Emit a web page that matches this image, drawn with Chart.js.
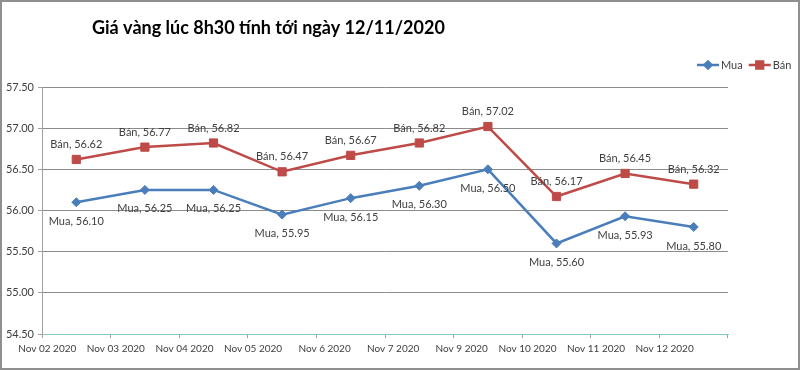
<!DOCTYPE html>
<html><head><meta charset="utf-8">
<script src="https://cdn.jsdelivr.net/npm/chart.js@4"></script>
<style>html,body{margin:0;padding:0;background:#fff}#wrap{width:800px;height:370px;position:relative}</style>
</head><body><div id="wrap"><canvas id="c" width="800" height="370"></canvas></div>
<script>
const titleText = 'Giá vàng lúc 8h30 tính tới ngày 12/11/2020';
const categories = ['Nov 02 2020','Nov 03 2020','Nov 04 2020','Nov 05 2020','Nov 6 2020','Nov 7 2020','Nov 9 2020','Nov 10 2020','Nov 11 2020','Nov 12 2020'];
const muaValues = [56.10,56.25,56.25,55.95,56.15,56.30,56.50,55.60,55.93,55.80];
const banValues = [56.62,56.77,56.82,56.47,56.67,56.82,57.02,56.17,56.45,56.32];
const seriesNames = ['Mua','Bán'];
const yMin = 54.5, yMax = 57.5, yStep = 0.5;

const FONT = 'Lato, "Liberation Sans", sans-serif';
const TEXT = '#404040';

const decor = {
  id: 'decor',
  beforeDraw(chart) {
    const ctx = chart.ctx; ctx.save();
    ctx.fillStyle = '#fff'; ctx.fillRect(0, 0, chart.width, chart.height);
    ctx.restore();
  },
  afterDatasetsDraw(chart) {
    const ctx = chart.ctx; ctx.save();
    ctx.font = '11px ' + FONT; ctx.fillStyle = TEXT;
    ctx.textAlign = 'center'; ctx.textBaseline = 'middle';
    chart.data.datasets.forEach((ds, i) => {
      const meta = chart.getDatasetMeta(i);
      meta.data.forEach((pt, j) => {
        const off = ds.labelOffset;
        ctx.fillText(ds.label + ', ' + ds.data[j].toFixed(2), pt.x, pt.y + off);
      });
    });
    ctx.restore();
  },
  afterDraw(chart) {
    const ctx = chart.ctx; ctx.save();
    ctx.strokeStyle = '#8f8f8f'; ctx.lineWidth = 2; ctx.strokeRect(1, 1, chart.width - 2, chart.height - 2);
    ctx.font = 'bold 18px ' + FONT; ctx.fillStyle = '#000';
    ctx.textBaseline = 'middle'; ctx.textAlign = 'left';
    ctx.fillText(titleText, 92, 28);
    // legend
    ctx.font = '11px ' + FONT;
    let x = 697; const y = 65;
    chart.data.datasets.forEach((ds) => {
      ctx.strokeStyle = ds.borderColor; ctx.lineWidth = 2.5;
      ctx.beginPath(); ctx.moveTo(x, y); ctx.lineTo(x + 22, y); ctx.stroke();
      ctx.fillStyle = ds.pointBackgroundColor; ctx.strokeStyle = ds.pointBorderColor;
      Chart.helpers.drawPoint(ctx, {pointStyle: ds.pointStyle, radius: ds.pointRadius - 1, rotation: 0, borderWidth: 1}, x + 11, y);
      ctx.fillStyle = TEXT; ctx.textAlign = 'left';
      ctx.fillText(ds.label, x + 24, y);
      x += 24 + ctx.measureText(ds.label).width + 6;
    });
    ctx.restore();
  }
};

new Chart(document.getElementById('c'), {
  type: 'line',
  data: {
    labels: categories,
    datasets: [
      { label: seriesNames[0], data: muaValues, borderColor: '#4a7ebb', backgroundColor: '#4a7ebb',
        pointBackgroundColor: '#4a7ebb', pointBorderColor: '#4a7ebb', borderWidth: 2.5,
        pointStyle: 'rectRot', pointRadius: 4.5, pointBorderWidth: 1, tension: 0, labelOffset: 19 },
      { label: seriesNames[1], data: banValues, borderColor: '#be4b48', backgroundColor: '#be4b48',
        pointBackgroundColor: '#be4b48', pointBorderColor: '#be4b48', borderWidth: 2.5,
        pointStyle: 'rect', pointRadius: 5.8, pointBorderWidth: 1, tension: 0, labelOffset: -15 }
    ]
  },
  options: {
    responsive: false, animation: false, devicePixelRatio: 1,
    layout: { padding: { top: 87, right: 72, left: 0, bottom: 0 } },
    plugins: { legend: { display: false }, title: { display: false }, tooltip: { enabled: false } },
    scales: {
      x: {
        type: 'category', offset: true,
        grid: { offset: true, drawOnChartArea: false, drawTicks: true, tickLength: 4, color: '#a0a0a0' },
        border: { color: '#86cbcd', width: 1 },
        ticks: { align: 'end', maxRotation: 0, autoSkip: false, padding: 5, color: TEXT, font: { family: FONT, size: 10 } },
        afterFit(s) { s.height = 36; }
      },
      y: {
        min: yMin, max: yMax,
        grid: { color: (c) => c.tick && c.tick.value === yMin ? '#86cbcd' : '#8c8c8c', tickLength: 4, tickColor: '#a0a0a0' },
        border: { color: '#a0a0a0' },
        ticks: { stepSize: yStep, padding: 4, color: TEXT, font: { family: FONT, size: 11 }, callback: (v) => Number(v).toFixed(2) },
        afterFit(s) { s.width = 42; }
      }
    }
  },
  plugins: [decor]
});
</script></body></html>
